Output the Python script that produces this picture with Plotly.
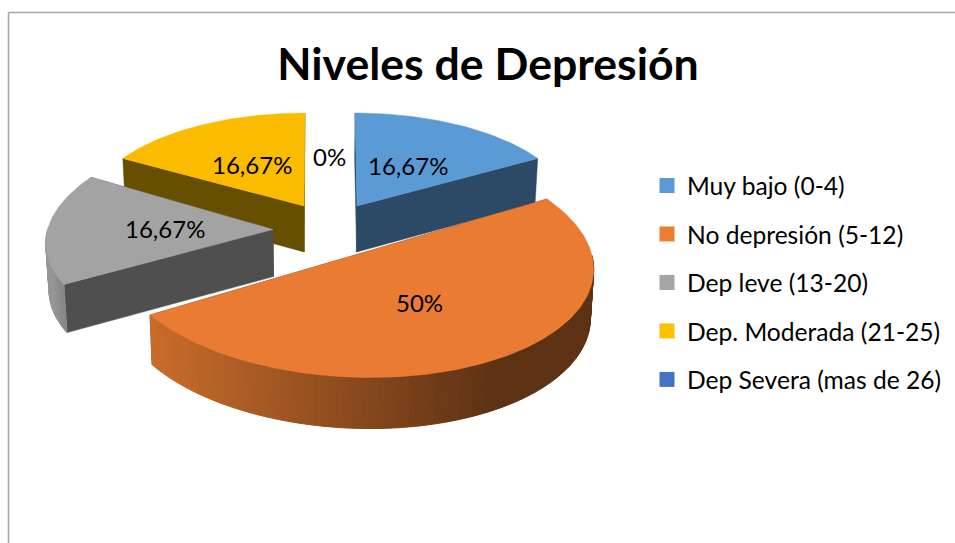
import math
import plotly.graph_objects as go

# ---- data ----
categories = ["Muy bajo (0-4)", "No depresión (5-12)", "Dep leve (13-20)",
              "Dep. Moderada (21-25)", "Dep Severa (mas de 26)"]
percentages = [16.67, 50, 16.67, 16.67, 0]
title_text = "Niveles de Depresión"

# ---- style ----
top_colors = ["#5B9BD5", "#E97B32", "#A3A3A3", "#FBBC00", "#4472C4"]
legend_colors = ["#5B9BD5", "#ED7D31", "#A5A5A5", "#FFC000", "#4472C4"]
cut_colors = ["#2C4A66", "#5E3113", "#4F4F4F", "#664F00", "#253E6B"]
rim_from = [(44, 74, 102), (200, 108, 42), (150, 150, 150), (102, 79, 0), (37, 62, 107)]
rim_to = [(44, 74, 102), (93, 49, 19), (135, 135, 135), (102, 79, 0), (37, 62, 107)]
# exploded-pie projection per slice: centre x, centre y, x radius, y radius, shear, depth
geometry = [
    (357, 206, 215, 97.6, -2, 46),
    (353.5, 255.5, 238.5, 115.9, -16.3, 48.5),
    (273, 229.5, 225.4, 107, 17.3, 47),
    (304, 206, 215, 97.6, 1, 46),
    (330, 206, 215, 97.6, 0, 46),
]
label_xy = [(408, 165), (419, 302), (165, 228), (252, 164), (329, 156)]
PERSP = 0.05
VANISH_X = 320
DEPTH_SCALE = 0.988
W, H = 955, 543
FONT = "Lato"
LABEL_SIZE = 24
LEGEND_SIZE = 24.6


def project(g, deg, lower=False):
    cx, cy, rx, ry, s, d = g
    t = math.radians(deg)
    X, Y = math.sin(t), math.cos(t)
    w = 1 + PERSP * Y
    x = cx + (rx * X + s * Y) / w
    y = cy - ry * Y / w
    if lower:
        x = VANISH_X + (x - VANISH_X) * DEPTH_SCALE
        y += d / w
    return x, y


def apex(g, lower=False):
    x, y = g[0], g[1]
    if lower:
        x = VANISH_X + (x - VANISH_X) * DEPTH_SCALE
        y += g[5]
    return x, y


def poly(points, color, name, lw=0.5):
    xs = [p[0] for p in points] + [points[0][0]]
    ys = [p[1] for p in points] + [points[0][1]]
    return go.Scatter(x=xs, y=ys, mode="lines", fill="toself", fillcolor=color,
                      line=dict(color=color, width=lw), legendgroup=name,
                      showlegend=False, hoverinfo="skip")


fig = go.Figure()
total = sum(percentages)
spans = []
acc = 0.0
for v in percentages:
    spans.append((acc, acc + v / total * 360))
    acc += v / total * 360

for i in [3, 0, 2, 1]:  # back to front
    g, (a0, a1) = geometry[i], spans[i]
    name = categories[i]
    # cut faces
    for edge in (a0, a1):
        fig.add_trace(poly([apex(g), project(g, edge), project(g, edge, True), apex(g, True)],
                           cut_colors[i], name))
    # rim, front-facing part only, as thin strips
    r0, r1 = max(a0, 90), min(a1, 270)
    n = max(int((r1 - r0) / 1.2), 0)
    for k in range(n):
        b0 = r0 + (r1 - r0) * k / n
        b1 = r0 + (r1 - r0) * (k + 1) / n
        pts = [project(g, b0), project(g, b1), project(g, b1, True), project(g, b0, True)]
        # gradient runs from the left end to about 3/4 of the slice width
        xm = (pts[0][0] + pts[1][0]) / 2
        left = project(g, r1, True)[0]
        right = left + 0.78 * (project(g, r0)[0] - left)
        f = min(max((xm - left) / max(right - left, 1), 0), 1)
        c = tuple(round(rim_from[i][j] + (rim_to[i][j] - rim_from[i][j]) * f) for j in range(3))
        fig.add_trace(poly(pts, "rgb(%d,%d,%d)" % c, name, 1))
    # top face
    steps = max(int(a1 - a0), 1)
    rim_pts = [project(g, a0 + (a1 - a0) * k / steps) for k in range(steps + 1)]
    fig.add_trace(poly([apex(g)] + rim_pts, top_colors[i], name))

# legend entries
for name, color in zip(categories, legend_colors):
    fig.add_trace(go.Scatter(x=[None], y=[None], mode="markers", name=name, legendgroup=name,
                             marker=dict(symbol="square", size=15, color=color)))

# data labels
for v, (lx, ly) in zip(percentages, label_xy):
    fig.add_annotation(x=lx, y=ly, text=f"{v:g}%".replace(".", ","), showarrow=False,
                       font=dict(family=FONT, size=LABEL_SIZE, color="black"))

# chart frame
fig.add_shape(type="line", x0=8.5, x1=W, y0=12.5, y1=12.5, line=dict(color="#A6A6A6", width=1.5))
fig.add_shape(type="line", x0=8.5, x1=8.5, y0=12.5, y1=H, line=dict(color="#A6A6A6", width=1.5))

fig.update_layout(
    width=W, height=H, margin=dict(l=0, r=0, t=0, b=0),
    paper_bgcolor="white", plot_bgcolor="white",
    xaxis=dict(range=[0, W], visible=False, fixedrange=True),
    yaxis=dict(range=[H, 0], visible=False, fixedrange=True),
    title=dict(text="<b>" + title_text + "</b>", x=488 / W, xanchor="center",
               y=1 - 64 / H, yanchor="middle", font=dict(family=FONT, size=44.6, color="black")),
    legend=dict(x=647 / W, xanchor="left", y=1 - 163 / H, yanchor="top",
                font=dict(family=FONT, size=LEGEND_SIZE, color="black"),
                tracegroupgap=13.5, bgcolor="rgba(0,0,0,0)", itemclick=False, itemdoubleclick=False),
)

fig.write_html("out.html", config={"displayModeBar": False},
               post_script="document.body.style.margin='0';document.body.style.overflow='hidden';")
